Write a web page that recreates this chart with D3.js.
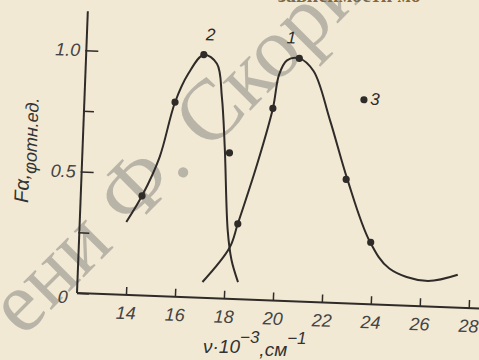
<!DOCTYPE html>
<html>
<head>
<meta charset="utf-8">
<script src="https://cdn.jsdelivr.net/npm/d3@7"></script>
<style>
  body { margin: 0; background: #f2e9d4; }
  svg { display: block; }
</style>
</head>
<body>
<div id="chart"></div>
<script>
// axis ticks
const xTicks = [14, 16, 18, 20, 22, 24, 26, 28];
const yTicks = [0, 0.25, 0.5, 0.75, 1.0];
const yTickLabels = ['0', '', '0.5', '', '1.0'];

// curve 1 (smooth line) and its measured points
const curve1 = [[17.1, 0.065], [18.15, 0.21], [18.45, 0.31], [19.15, 0.56], [19.7, 0.79],
  [19.9, 0.93], [20.2, 0.99], [20.7, 1.0], [21.3, 0.95], [22.05, 0.75], [22.85, 0.51],
  [23.85, 0.26], [24.7, 0.15], [26.2, 0.105], [27.5, 0.135]];
const points1 = [[18.45, 0.31], [19.7, 0.79], [20.7, 1.0], [22.8, 0.51], [23.9, 0.255]];

// curve 2
const curve2 = [[13.9, 0.3], [14.5, 0.41], [15.15, 0.57], [15.7, 0.8], [16.2, 0.92],
  [16.8, 1.0], [17.35, 0.965], [17.6, 0.83], [17.8, 0.62], [18.05, 0.28],
  [18.25, 0.16], [18.55, 0.07]];
const points2 = [[14.5, 0.41], [15.7, 0.8], [16.8, 1.0], [18.0, 0.6]];

// isolated point 3
const points3 = [[23.4, 0.84]];

const curveLabels = [{ t: '2', x: 17.05, y: 1.06 }, { t: '1', x: 20.35, y: 1.06 }, { t: '3', x: 23.85, y: 0.82 }];

const width = 479, height = 360;
const ink = '#2e2b29';

const svg = d3.select('#chart').append('svg')
  .attr('width', width)
  .attr('height', height);

svg.append('rect').attr('width', width).attr('height', height).attr('fill', '#f2e9d4');

// library stamp over the scan
svg.append('text')
  .attr('transform', 'translate(23,338) rotate(-45)')
  .style('font-family', '"Liberation Serif", serif')
  .style('font-size', '86px')
  .attr('fill', '#b0aba1')
  .attr('opacity', 0.85)
  .text('ени Ф. Скорины');

// cut-off book text at the top
svg.append('text')
  .attr('x', 278).attr('y', 2)
  .style('font-family', '"Liberation Serif", serif')
  .style('font-size', '20px')
  .style('font-weight', 'bold')
  .attr('fill', '#7a6a48')
  .text('зависимости мо');

// the scan is slightly tilted
const g = svg.append('g').attr('transform', 'translate(77,293) rotate(2.2)');

const x = d3.scaleLinear().domain([12, 28]).range([0, 392]);
const y = d3.scaleLinear().domain([0, 1]).range([0, -243]);

const tickFont = '"Liberation Sans", Arial, sans-serif';

// x axis
const xAxis = d3.axisBottom(x).tickValues(xTicks).tickSize(-8).tickPadding(8).tickSizeOuter(0);
const gx = g.append('g').call(xAxis);
gx.select('.domain').remove();
gx.selectAll('line').attr('stroke', ink).attr('stroke-width', 1.5);
gx.selectAll('text').attr('fill', '#444').attr('dy', '0.9em')
  .style('font-family', tickFont).style('font-size', '18px').style('font-style', 'italic');
g.append('line').attr('x1', 0).attr('x2', x(28.6)).attr('y1', 0).attr('y2', 0)
  .attr('stroke', ink).attr('stroke-width', 2);

// y axis
const yAxis = d3.axisLeft(y).tickValues(yTicks).tickSize(-11).tickPadding(6)
  .tickFormat((d, i) => yTickLabels[i]);
const gy = g.append('g').call(yAxis);
gy.select('.domain').remove();
gy.selectAll('line').attr('stroke', ink).attr('stroke-width', 1.5)
  .attr('x1', d => d === 0 ? 0 : -1).attr('x2', (d, i) => yTickLabels[i] ? 12 : 10);
gy.selectAll('text').attr('fill', '#444')
  .style('font-family', tickFont).style('font-size', '18px').style('font-style', 'italic');
gy.selectAll('.tick').filter(d => d === 0).select('text').attr('x', -9).attr('dy', '0.55em');
g.append('line').attr('x1', 0).attr('x2', 0).attr('y1', 0).attr('y2', y(1.16))
  .attr('stroke', ink).attr('stroke-width', 2);

// curves
const line = d3.line()
  .x(d => x(d[0]))
  .y(d => y(d[1]))
  .curve(d3.curveCatmullRom.alpha(0.5));

[curve1, curve2].forEach(c => {
  g.append('path').datum(c)
    .attr('d', line)
    .attr('fill', 'none')
    .attr('stroke', ink)
    .attr('stroke-width', 2);
});

// measured points
g.selectAll('circle.pt')
  .data(points1.concat(points2, points3))
  .enter().append('circle')
  .attr('class', 'pt')
  .attr('cx', d => x(d[0]))
  .attr('cy', d => y(d[1]))
  .attr('r', 3.6)
  .attr('fill', ink);

// curve numbers
g.selectAll('text.lbl')
  .data(curveLabels)
  .enter().append('text')
  .attr('class', 'lbl')
  .attr('x', d => x(d.x))
  .attr('y', d => y(d.y))
  .attr('text-anchor', 'middle')
  .attr('fill', ink)
  .style('font-family', tickFont)
  .style('font-size', '17px')
  .style('font-style', 'italic')
  .text(d => d.t);

// axis titles
const yTitle = svg.append('text')
  .attr('transform', 'translate(28,203) rotate(-88)')
  .attr('fill', '#333')
  .style('font-family', tickFont)
  .style('font-style', 'italic')
  .style('font-size', '20px');
yTitle.append('tspan').text('Fα,');
yTitle.append('tspan').attr('dy', 7).style('font-size', '18px').text('φотн.ед.');

const xTitle = svg.append('text')
  .attr('x', 203).attr('y', 353)
  .attr('fill', '#333')
  .style('font-family', tickFont)
  .style('font-style', 'italic')
  .style('font-size', '19px');
xTitle.append('tspan').text('ν·10');
xTitle.append('tspan').attr('dy', -10).style('font-size', '17px').text('−3');
xTitle.append('tspan').attr('dy', 13).text(',см');
xTitle.append('tspan').attr('dy', -12).style('font-size', '17px').text('−1');
</script>
</body>
</html>
